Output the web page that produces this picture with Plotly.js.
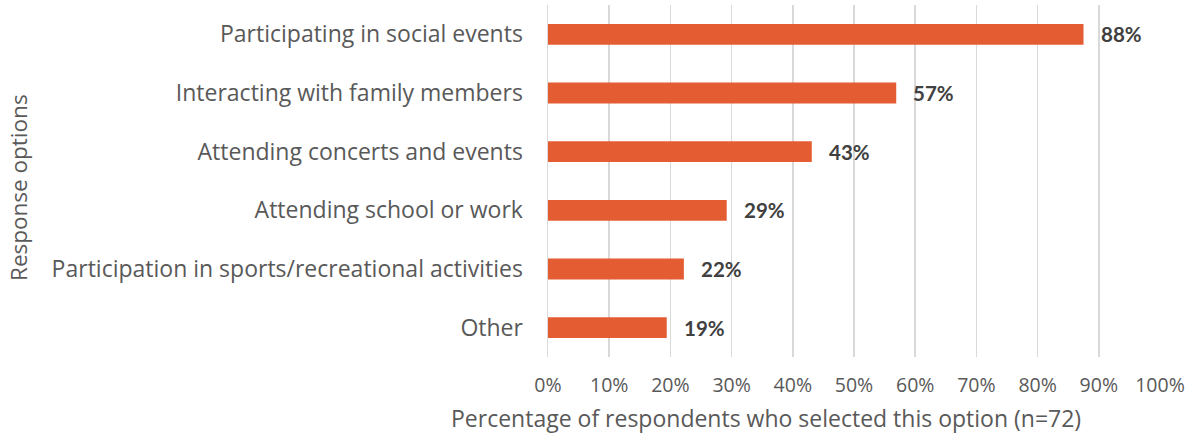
<!DOCTYPE html>
<html><head><meta charset="utf-8">
<script src="https://cdn.plot.ly/plotly-3.0.1.min.js"></script>
<style>body{margin:0;padding:0;background:#fff}#chart{width:1196px;height:438px}</style>
</head><body><div id="chart"></div>
<script>
const categories = ["Participating in social events","Interacting with family members","Attending concerts and events","Attending school or work","Participation in sports/recreational activities","Other"];
const values = [87.5, 56.9, 43.1, 29.2, 22.2, 19.4];
const valueLabels = ["88%","57%","43%","29%","22%","19%"];
const tickVals = [0,10,20,30,40,50,60,70,80,90,100];
const tickLabels = ["0%","10%","20%","30%","40%","50%","60%","70%","80%","90%","100%"];

const FONT = "'Open Sans', sans-serif";
const BOLD = "Lato, sans-serif";
const trace = {
  type: 'bar', orientation: 'h',
  x: values, y: categories,
  marker: {color: '#E45C31'},
  hoverinfo: 'none'
};
const annotations = values.map((v,i)=>({
  x: v, y: categories[i], xref:'x', yref:'y', text: valueLabels[i],
  xanchor:'left', yanchor:'middle', xshift: 15, showarrow:false,
  font:{family:BOLD, size:20.5, color:'#404040', weight:'bold'}
}));
annotations.push({
  xref:'paper', yref:'paper', x:(766-548)/612, y:-(418-357)/352, xanchor:'center', yanchor:'middle',
  text:'Percentage of respondents who selected this option (n=72)', showarrow:false,
  font:{family:FONT, size:23, color:'#595959'}
});
annotations.push({
  xref:'paper', yref:'paper', x:-(548-18)/612, y:(357-188)/352, xanchor:'center', yanchor:'middle',
  text:'Response options', textangle:-90, showarrow:false,
  font:{family:FONT, size:22.5, color:'#595959'}
});
const layout = {
  width:1196, height:438,
  margin:{l:548, r:36, t:5, b:81},
  paper_bgcolor:'#fff', plot_bgcolor:'#fff',
  showlegend:false, bargap:0.645,
  font:{family:FONT, color:'#595959', size:18},
  xaxis:{range:[0,100], tickvals:tickVals, ticktext:tickLabels, showgrid:true,
    gridcolor:'#d9d9d9', gridwidth:1.5, zeroline:false, showline:false, ticks:'',
    ticklabelstandoff:14,
    tickfont:{family:FONT, size:19.5, color:'#595959'}, fixedrange:true},
  yaxis:{autorange:'reversed', showgrid:false, zeroline:false, showline:true,
    linecolor:'#d9d9d9', linewidth:1.5, ticks:'', ticklabelstandoff:19,
    tickfont:{family:FONT, size:23, color:'#595959'}, fixedrange:true},
  annotations: annotations
};
Plotly.newPlot('chart',[trace],layout,{displayModeBar:false, staticPlot:true});
</script></body></html>
